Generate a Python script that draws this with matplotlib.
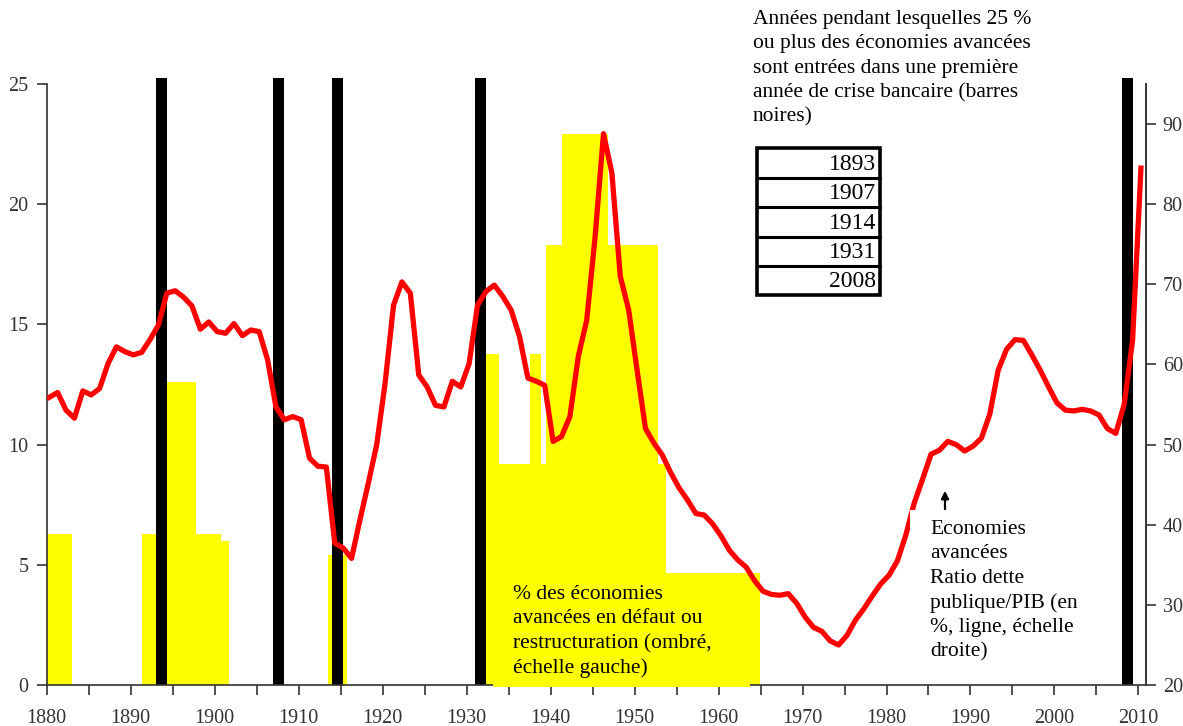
import matplotlib
matplotlib.use("Agg")
import matplotlib.pyplot as plt
from matplotlib.patches import Rectangle
from matplotlib.transforms import Bbox, TransformedBbox
import numpy as np

W, H = 1183, 726

# share of advanced economies in default / restructuring (left scale), step intervals
default_start = [1880, 1891.4, 1894.0, 1897.8, 1900.75, 1913.5, 1931.5, 1933.9,
                 1937.5, 1938.85, 1939.45, 1941.4, 1946.8, 1952.8, 1953.8]
default_end = [1883.0, 1894.0, 1897.8, 1900.75, 1901.7, 1915.7, 1933.9, 1937.5,
               1938.85, 1939.45, 1941.4, 1946.8, 1952.8, 1953.8, 1964.9]
default_share = [6.3, 6.3, 12.6, 6.3, 6.0, 5.4, 13.75, 9.2,
                 13.75, 9.2, 18.3, 22.9, 18.3, 9.2, 4.65]

# first year of banking crisis for 25 % or more of advanced economies
crisis_years = [1893, 1907, 1914, 1931, 2008]

# public debt / GDP of advanced economies (right scale)
debt_years = list(range(1880, 2011))
debt_ratio = [
    55.9, 56.5, 54.3, 53.3, 56.7, 56.2, 57.0, 60.1, 62.2, 61.6,   # 1880s
    61.2, 61.5, 63.1, 64.9, 68.9, 69.2, 68.4, 67.3, 64.4, 65.3,   # 1890s
    64.1, 63.9, 65.1, 63.6, 64.3, 64.1, 60.6, 54.7, 53.1, 53.5,   # 1900s
    53.1, 48.3, 47.3, 47.2, 37.7, 37.1, 35.8, 40.6, 45.2, 50.0,   # 1910s
    57.7, 67.4, 70.3, 68.9, 58.7, 57.2, 54.9, 54.7, 57.9, 57.2,   # 1920s
    60.1, 67.4, 69.1, 69.9, 68.5, 66.8, 63.5, 58.3, 57.9, 57.4,   # 1930s
    50.4, 51.0, 53.5, 61.0, 65.5, 75.9, 88.8, 83.9, 71.0, 66.8,   # 1940s
    59.3, 52.0, 50.2, 48.7, 46.5, 44.6, 43.1, 41.4, 41.2, 40.1,   # 1950s
    38.6, 36.8, 35.6, 34.7, 33.0, 31.7, 31.3, 31.2, 31.4, 30.2,   # 1960s
    28.5, 27.2, 26.7, 25.5, 25.0, 26.2, 28.1, 29.5, 31.1, 32.6,   # 1970s
    33.7, 35.5, 38.7, 42.7, 45.7, 48.8, 49.3, 50.4, 50.0, 49.2,   # 1980s
    49.8, 50.8, 53.8, 59.3, 61.9, 63.1, 63.0, 61.2, 59.3, 57.2,   # 1990s
    55.2, 54.3, 54.2, 54.4, 54.2, 53.7, 52.0, 51.4, 55.0, 63.0,   # 2000s
    84.5,
]

note_crisis = ("Années pendant lesquelles 25 %\nou plus des économies avancées\n"
               "sont entrées dans une première\nannée de crise bancaire (barres\nnoires)")
note_default = ("% des économies\navancées en défaut ou\nrestructuration (ombré,\n"
                "échelle gauche)")
note_debt = ("Economies\navancées\nRatio dette\npublique/PIB (en\n%, ligne, échelle\n"
             "droite)")

SERIF = ["Liberation Serif", "DejaVu Serif"]
GREY = "#333333"
LSP = 1.38


def fx(x):
    return x / W


def fy(y):
    return 1 - y / H


fig = plt.figure(figsize=(W / 100, H / 100), dpi=100)
ax = fig.add_axes([fx(46.7), fy(685), (1146 - 46.7) / W, (685 - 84) / H])
ax.set_xlim(1880, 2010.9)
ax.set_ylim(0, 25)

widths = np.array(default_end) - np.array(default_start)
ax.bar(default_start, default_share, width=widths, align="edge",
       color="#FFFF00", linewidth=0, zorder=1)
ax.bar(crisis_years, 25.25, width=1.3, align="edge", color="black",
       linewidth=0, zorder=2, clip_on=False)

ax2 = ax.twinx()
ax2.set_ylim(20, 95)
ax2.plot(np.array(debt_years) + 0.3, debt_ratio, color="#FF0000", lw=3.8,
         solid_joinstyle="round", zorder=3)

for a in (ax, ax2):
    a.spines["top"].set_visible(False)
    for s in a.spines.values():
        s.set_color(GREY)
        s.set_linewidth(1.2)
ax2.spines["left"].set_visible(False)
ax2.spines["bottom"].set_visible(False)

ax.set_xticks(range(1880, 2011, 10))
ax.set_xticks(range(1885, 2011, 10), minor=True)
ax.set_yticks(range(0, 26, 5))
ax2.set_yticks(range(20, 91, 10))
ax.tick_params(axis="x", which="both", direction="out", length=7, width=1.2,
               color=GREY, pad=10)
ax.tick_params(axis="y", direction="out", length=7, width=1.2, color=GREY, pad=6)
ax2.tick_params(axis="y", direction="out", length=7, width=1.2, color=GREY, pad=5)
for lab in ax.get_xticklabels() + ax.get_yticklabels() + ax2.get_yticklabels():
    lab.set_fontfamily(SERIF)
    lab.set_fontsize(14.5)
    lab.set_color(GREY)

# crisis note and table of years
fig.text(fx(753), fy(10), note_crisis, family=SERIF, fontsize=15.5,
         va="top", ha="left", linespacing=LSP)
row_edges = [148, 178, 207, 237, 266, 295]
for i, yr in enumerate(crisis_years):
    y0, y1 = row_edges[i], row_edges[i + 1]
    fig.text(fx(876), fy((y0 + y1) / 2 + 1), str(yr), family=SERIF, fontsize=17,
             ha="right", va="center")
for y in row_edges[1:-1]:
    fig.add_artist(plt.Line2D([fx(757), fx(880)], [fy(y), fy(y)],
                              color="black", lw=2.2))
fig.add_artist(Rectangle((fx(757), fy(295)), fx(880 - 757), (295 - 148) / H,
                         fill=False, edgecolor="black", lw=2.6))

# default note (yellow box over the axis)
fig.add_artist(Rectangle((fx(493), fy(687)), fx(750 - 493), (687 - 582) / H,
                         facecolor="#FFFF00", edgecolor="none"))
t1 = fig.text(fx(513), fy(585), note_default, family=SERIF, fontsize=15.5,
              va="top", ha="left", linespacing=LSP)
t1.set_clip_box(TransformedBbox(Bbox([[fx(493), fy(679)], [fx(750), fy(580)]]),
                                fig.transFigure))
t1.set_clip_on(True)

# debt note (white box)
fig.add_artist(Rectangle((fx(910), fy(663)), fx(1105 - 910), (663 - 510) / H,
                         facecolor="white", edgecolor="none"))
t2 = fig.text(fx(930), fy(520), note_debt, family=SERIF, fontsize=15.5,
              va="top", ha="left", linespacing=LSP)
t2.set_clip_box(TransformedBbox(Bbox([[fx(910), fy(663)], [fx(1105), fy(510)]]),
                                fig.transFigure))
t2.set_clip_on(True)
ax.annotate("", xy=(945, H - 488), xytext=(945, H - 512), xycoords="figure pixels",
            textcoords="figure pixels",
            arrowprops=dict(arrowstyle="-|>", color="black", lw=1.6,
                            mutation_scale=11))

fig.savefig("out.png", dpi=100)
